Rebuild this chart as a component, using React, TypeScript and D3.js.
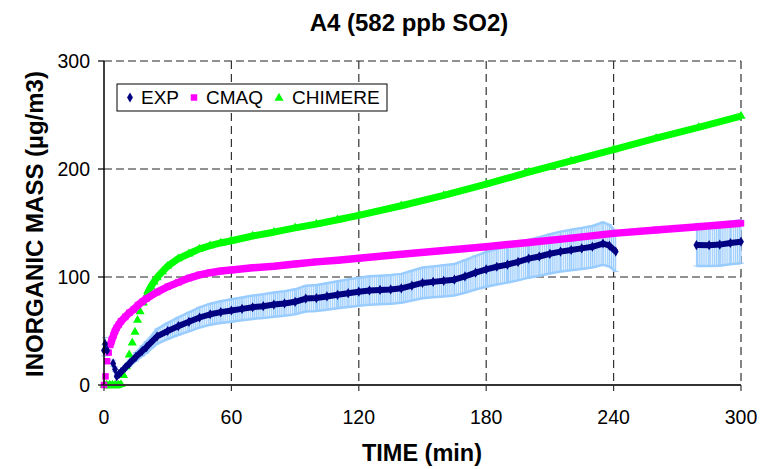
import React from "react";
import * as d3 from "d3";

const title = "A4 (582 ppb SO2)";
const xTitle = "TIME (min)";
const yTitle = "INORGANIC MASS (µg/m3)";
const xTicks = [0, 60, 120, 180, 240, 300];
const yTicks = [0, 100, 200, 300];

const expTime = [0, 0.5, 1.5, 4.3, 5.2, 6, 7, 8, 10, 12, 15, 18, 20, 25, 30, 35, 40, 45, 50, 55, 60, 65, 70, 75, 80, 85, 90, 95, 100, 105, 110, 115, 120, 125, 130, 135, 140, 145, 150, 155, 160, 165, 170, 175, 180, 185, 190, 195, 200, 205, 210, 215, 220, 225, 230, 235, 238, 241, 279, 285, 290, 295, 300];
const expValue = [32, 38, 32, 20, 14.5, 8, 10, 12, 16, 20, 26, 31.5, 35, 45, 50, 54.5, 58.5, 62.5, 65.5, 67.5, 69, 70.5, 72, 73, 74.5, 75.5, 77, 80, 80.5, 82, 83.5, 85, 86.4, 87.5, 88, 88.5, 89.5, 92, 94.5, 95.5, 96.5, 97.5, 100.5, 104, 107, 109.5, 111.5, 114, 117, 119, 121.5, 123.5, 125, 126.5, 128, 131, 129, 123.5, 129.6, 129.5, 130, 131.5, 132.7];
const expError = [5, 6, 5, 3, 2.2, 1.2, 1.5, 1.8, 2.4, 3, 3.9, 4.7, 5.3, 6.8, 7.5, 8.2, 8.8, 9.4, 9.8, 10.1, 10.4, 10.6, 10.8, 11, 11.2, 11.3, 11.6, 12, 12.1, 12.3, 12.5, 12.8, 13, 13.1, 13.2, 13.3, 13.4, 13.8, 14.2, 14.3, 14.5, 14.6, 15.1, 15.6, 16.1, 16.4, 16.7, 17.1, 17.6, 17.9, 18.2, 18.5, 18.8, 19, 19.2, 19.7, 19.4, 18.5, 19.4, 19.4, 19.5, 19.7, 19.9];

const cmaqTime = [0, 0.7, 1.5, 2.2, 3, 3.7, 4.5, 5.2, 6, 7, 8, 10, 12, 14, 16, 18, 20, 25, 30, 35, 40, 45, 50, 55, 60, 70, 80, 90, 100, 110, 120, 140, 160, 180, 200, 220, 240, 260, 280, 300];
const cmaqValue = [0, 8, 22, 30, 37, 42, 46, 50, 53, 56, 59, 63, 67, 70, 74, 77, 80, 86, 91, 95, 99, 102, 104, 105.5, 106.5, 108.5, 110, 112, 114, 115.5, 117.3, 121, 124.5, 128, 132, 136, 140.4, 143.5, 146.5, 149.7];

const chimereTime = [0, 1.3, 2.7, 4, 5.3, 6.7, 8, 9.2, 10.5, 11.9, 13.3, 14.6, 15.8, 17, 18.5, 20, 21, 22, 23.5, 25, 27.5, 30, 35, 40, 45, 50, 55, 60, 70, 80, 90, 100, 110, 120, 140, 160, 180, 200, 220, 240, 260, 280, 300];
const chimereValue = [0, 0, 0, 0, 0, 0, 0.5, 9, 17, 28, 39, 49, 60, 68, 76, 83, 87, 91, 95.5, 99.5, 105, 110, 117, 121.5, 126, 129, 131.5, 133.6, 138, 141.5, 145.5, 149, 153, 157, 166, 175.5, 186, 197, 207.5, 218, 228.5, 238.5, 249];

const W = 770, H = 469;
const X0 = 104, X1 = 741, Y0 = 385, Y1 = 61;
const FONT = "'Liberation Sans', Arial, sans-serif";

type P = { t: number; v: number };
const zip = (t: number[], v: number[]): P[] => t.map((d, i) => ({ t: d, v: v[i] }));

export default function App() {
  const x = d3.scaleLinear().domain([0, 300]).range([X0, X1]);
  const y = d3.scaleLinear().domain([0, 300]).range([Y0, Y1]);

  const exp = expTime.map((t, i) => ({ t, v: expValue[i], e: expError[i] }));
  const cmaq = zip(cmaqTime, cmaqValue);
  const chim = zip(chimereTime, chimereValue);

  // split into connected runs: markers that overlap, or gently sloping stretches
  const runs = <T extends P>(pts: T[], maxDy: number, maxDt: number): T[][] => {
    const out: T[][] = [];
    let cur: T[] = [pts[0]];
    for (let i = 1; i < pts.length; i++) {
      const dy = Math.abs(y(pts[i].v) - y(pts[i - 1].v));
      const dx = Math.abs(x(pts[i].t) - x(pts[i - 1].t));
      const dt = pts[i].t - pts[i - 1].t;
      if ((dy < maxDy || dy / dx < 1.5) && dt <= maxDt) cur.push(pts[i]);
      else { out.push(cur); cur = [pts[i]]; }
    }
    out.push(cur);
    return out;
  };

  const line = d3.line<P>().x(d => x(d.t)).y(d => y(d.v));
  const band = d3.area<{ t: number; v: number; e: number }>()
    .x(d => x(d.t)).y0(d => y(d.v - d.e)).y1(d => y(d.v + d.e));

  const expRuns = runs(exp, 4, 21);
  const cmaqRuns = runs(cmaq, 7.5, 21);
  const chimRuns = runs(chim, 7.5, 21);

  const errColor = "#99CCFF";
  const diamond = d3.symbol().type(d3.symbolDiamond).size(30)() as string;
  const square = d3.symbol().type(d3.symbolSquare).size(42)() as string;
  const triangle = d3.symbol().type(d3.symbolTriangle).size(36)() as string;

  return (
    <svg width={W} height={H} style={{ position: "absolute", left: 0, top: 0, background: "#fff" }} fontFamily={FONT}>
      <defs>
        <pattern id="stripes" width={2.1} height={4} patternUnits="userSpaceOnUse">
          <rect x={0} y={0} width={2.1} height={4} fill="#e6f2fd" />
          <rect x={0} y={0} width={1} height={4} fill={errColor} />
        </pattern>
      </defs>
      <text x={409} y={31} textAnchor="middle" fontSize={24} fontWeight="bold">{title}</text>

      {/* gridlines */}
      {yTicks.filter(t => t > 0).map(t => (
        <line key={"gy" + t} x1={X0} x2={X1} y1={y(t)} y2={y(t)} stroke="#222" strokeWidth={1} strokeDasharray="8,4" />
      ))}
      {xTicks.filter(t => t > 0).map(t => (
        <line key={"gx" + t} x1={x(t)} x2={x(t)} y1={Y1} y2={Y0} stroke="#333" strokeWidth={1.2} strokeDasharray="8,5" />
      ))}

      {/* EXP error bars */}
      {expRuns.map((r, i) => r.length > 1 ? (
        <g key={"eb" + i}>
          <path d={band(r) as string} fill="url(#stripes)" />
          <path d={line(r.map(d => ({ t: d.t, v: d.v + d.e }))) as string} fill="none" stroke={errColor} strokeWidth={2.5} />
          <path d={line(r.map(d => ({ t: d.t, v: d.v - d.e }))) as string} fill="none" stroke={errColor} strokeWidth={2.5} />
        </g>
      ) : null)}
      {exp.map((d, i) => (
        <g key={"eb1" + i} stroke={errColor} strokeWidth={1}>
          <line x1={x(d.t)} x2={x(d.t)} y1={y(d.v - d.e)} y2={y(d.v + d.e)} />
          <line x1={x(d.t) - 3} x2={x(d.t) + 3} y1={y(d.v - d.e)} y2={y(d.v - d.e)} />
          <line x1={x(d.t) - 3} x2={x(d.t) + 3} y1={y(d.v + d.e)} y2={y(d.v + d.e)} />
        </g>
      ))}

      {/* CHIMERE */}
      {chimRuns.map((r, i) => r.length > 1 ? (
        <path key={"cl" + i} d={line(r) as string} fill="none" stroke="#00FF00" strokeWidth={7} strokeLinejoin="round" />
      ) : null)}
      {chim.map((d, i) => (
        <path key={"cm" + i} d={triangle} transform={`translate(${x(d.t)},${y(d.v)})`} fill="#00FF00" />
      ))}

      {/* CMAQ */}
      {cmaqRuns.map((r, i) => r.length > 1 ? (
        <path key={"ml" + i} d={line(r) as string} fill="none" stroke="#FF00FF" strokeWidth={7.5} strokeLinejoin="round" />
      ) : null)}
      {cmaq.map((d, i) => (
        <path key={"mm" + i} d={square} transform={`translate(${x(d.t)},${y(d.v)})`} fill="#FF00FF" />
      ))}

      {/* EXP */}
      {expRuns.map((r, i) => r.length > 1 ? (
        <path key={"el" + i} d={line(r) as string} fill="none" stroke="#000080" strokeWidth={6} strokeLinejoin="round" />
      ) : null)}
      {exp.map((d, i) => (
        <path key={"em" + i} d={diamond} transform={`translate(${x(d.t)},${y(d.v)})`} fill="#000080" />
      ))}

      {/* axes */}
      <line x1={X0} x2={X0} y1={Y1} y2={Y0} stroke="#000" strokeWidth={1.5} />
      <line x1={X0} x2={X1} y1={Y0} y2={Y0} stroke="#333" strokeWidth={2} />
      {yTicks.map(t => (
        <g key={"yt" + t}>
          <line x1={X0 - 6} x2={X0} y1={y(t)} y2={y(t)} stroke="#000" strokeWidth={1.2} />
          <text x={90} y={y(t) + 7} textAnchor="end" fontSize={19.5}>{t}</text>
        </g>
      ))}
      {xTicks.map(t => (
        <g key={"xt" + t}>
          <line x1={x(t)} x2={x(t)} y1={Y0} y2={Y0 + 6} stroke="#333" strokeWidth={1.2} />
          <text x={x(t)} y={424} textAnchor="middle" fontSize={19.5}>{t}</text>
        </g>
      ))}
      <text x={422} y={461} textAnchor="middle" fontSize={23.5} fontWeight="bold">{xTitle}</text>
      <text transform={`translate(43,224) rotate(-90)`} textAnchor="middle" fontSize={24} fontWeight="bold">{yTitle}</text>

      {/* legend */}
      <rect x={117} y={84} width={270} height={27} fill="#fff" stroke="#000" strokeWidth={1} />
      <path d={diamond} transform="translate(130,97.5)" fill="#000080" />
      <text x={141} y={104} fontSize={19}>EXP</text>
      <path d={square} transform="translate(194,97.5)" fill="#FF00FF" />
      <text x={206} y={104} fontSize={19}>CMAQ</text>
      <path d={triangle} transform="translate(279,98)" fill="#00FF00" />
      <text x={292} y={104} fontSize={19}>CHIMERE</text>
    </svg>
  );
}
